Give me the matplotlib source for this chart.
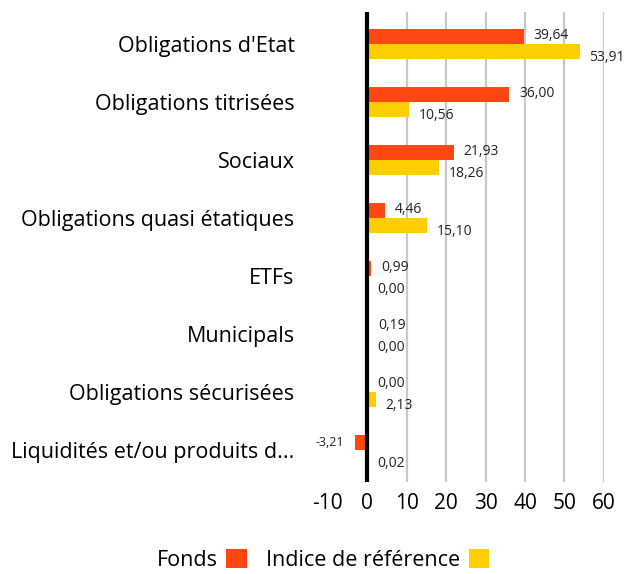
import numpy as np
import matplotlib.pyplot as plt

categories = ["Obligations d'Etat", "Obligations titrisées", "Sociaux",
              "Obligations quasi étatiques", "ETFs", "Municipals",
              "Obligations sécurisées", "Liquidités et/ou produits d..."]
fonds = [39.64, 36.00, 21.93, 4.46, 0.99, 0.19, 0.00, -3.21]
indice = [53.91, 10.56, 18.26, 15.10, 0.00, 0.00, 2.13, 0.02]
xticks = [-10, 0, 10, 20, 30, 40, 50, 60]

orange = '#FF4713'
yellow = '#FFCE00'

plt.rcParams['font.family'] = ['Open Sans', 'DejaVu Sans']

fig = plt.figure(figsize=(6.27, 5.74), dpi=100)
ax = fig.add_axes([0.523, 0.160, 0.440, 0.819])

y = np.arange(len(categories))
h = 0.26
ax.barh(y - h / 2, fonds, height=h, color=orange, label='Fonds', zorder=3)
ax.barh(y + h / 2, indice, height=h, color=yellow, label='Indice de référence', zorder=3)

def fmt(v):
    return f'{v:.2f}'.replace('.', ',')

for i in range(len(categories)):
    v = fonds[i]
    if v < 0:
        ax.annotate(fmt(v), (v, y[i] - h / 2), xytext=(-8, 0), textcoords='offset points',
                    ha='right', va='center', fontsize=9, color='#222222')
    else:
        ax.annotate(fmt(v), (v, y[i] - h / 2), xytext=(7, 1), textcoords='offset points',
                    ha='left', va='center', fontsize=10, color='#222222')
    v = indice[i]
    ax.annotate(fmt(v), (v, y[i] + h / 2), xytext=(7, -4), textcoords='offset points',
                ha='left', va='center', fontsize=10, color='#222222')

ax.set_xlim(-10, 60)
ax.set_ylim(len(categories) - 0.45, -0.55)
ax.set_yticks(y)
ax.set_yticklabels(categories, fontsize=15.5)
ax.set_xticks(xticks)
ax.set_xticklabels([str(t) for t in xticks], fontsize=15)
ax.tick_params(axis='both', length=0)
ax.tick_params(axis='y', pad=24)
ax.tick_params(axis='x', pad=8)
for t in xticks[2:]:
    ax.axvline(t, color='#c8c8c8', lw=1.6, zorder=1)
ax.axvline(0, color='black', lw=3, zorder=4)
for s in ax.spines.values():
    s.set_visible(False)

fig.legend(loc='lower center', bbox_to_anchor=(0.515, -0.028), ncol=2, frameon=False,
           markerfirst=False, fontsize=15.5, handlelength=0.95, handleheight=0.95,
           columnspacing=0.9, handletextpad=0.4)

fig.savefig('out.png', dpi=100)
